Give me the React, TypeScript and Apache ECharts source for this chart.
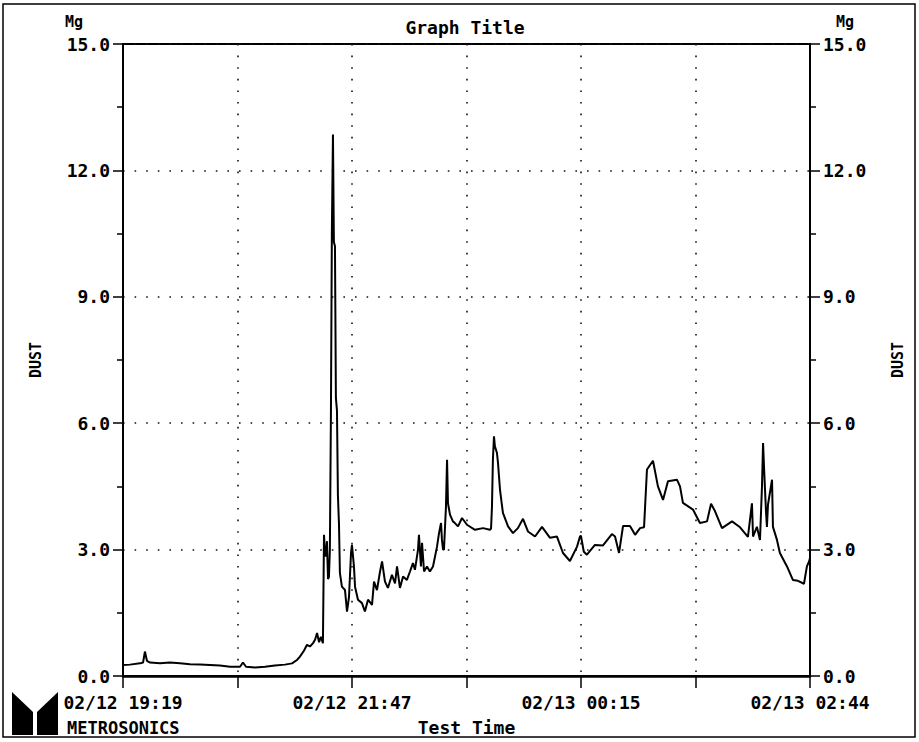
import React, { useEffect, useRef } from "react";
import * as echarts from "echarts";

// Elapsed minutes since 02/12 19:19, dust concentration (mg)
const dustReadings: [number, number][] = [
  [0,0.26],[4.5,0.27],[11,0.3],[13,0.32],[14.2,0.58],[15.5,0.36],[17.5,0.32],[24,0.3],[30.4,0.32],[36.9,0.3],
  [43.4,0.28],[49.9,0.27],[56.4,0.26],[62.8,0.25],[69.3,0.22],[75.8,0.22],[77.7,0.32],[79.7,0.22],[85.5,0.2],[92,0.22],
  [98.4,0.25],[104.9,0.27],[109.5,0.3],[112.7,0.38],[114.6,0.46],[117.2,0.6],[119.2,0.74],[121.1,0.7],[123.1,0.78],[124.4,0.86],
  [125.7,1.02],[127,0.8],[128.2,0.93],[129.5,0.78],[130.2,3.35],[130.8,2.9],[131.4,2.84],[132.1,3.2],[132.8,2.3],[133.4,2.35],
  [134,3.0],[134.7,6.3],[135.3,10.6],[136,12.85],[136.6,10.3],[137.3,10.2],[137.9,6.6],[138.6,6.3],[139.2,4.3],[139.9,3.6],
  [140.5,2.45],[141.8,2.12],[143.8,2.04],[145.1,1.53],[146.4,1.88],[147.7,2.92],[148.3,3.11],[149.6,2.6],[150.3,2.12],[152.2,1.81],
  [154.8,1.73],[156.7,1.53],[158.7,1.81],[161.3,1.69],[162.6,2.24],[164.5,2.04],[166.5,2.48],[167.8,2.72],[169.7,2.24],[171.6,2.09],
  [174.2,2.4],[176.2,2.2],[177.5,2.6],[179.4,2.09],[181.4,2.36],[183.9,2.28],[185.9,2.48],[187.8,2.68],[189.1,2.52],[191.1,3.0],
  [191.7,3.35],[193,2.6],[193.7,3.16],[195,2.48],[196.9,2.6],[198.8,2.48],[200.8,2.6],[203.4,3.07],[204.7,3.39],[206,3.63],
  [206.6,3.23],[207.3,3.0],[207.9,3.0],[209.2,4.02],[209.9,5.13],[210.5,4.1],[211.8,3.83],[213.7,3.67],[215,3.63],[217,3.55],
  [219.6,3.75],[222.8,3.59],[228,3.47],[233.2,3.51],[237.7,3.47],[238.4,3.5],[239,4.02],[239.6,5.13],[240.3,5.69],[240.9,5.45],
  [242.2,5.3],[242.9,5.06],[244.2,4.42],[246.1,3.87],[249.4,3.55],[252.6,3.39],[255.8,3.51],[259.1,3.73],[262.3,3.43],[266.9,3.31],
  [271.4,3.54],[276.6,3.28],[281.1,3.31],[285,2.92],[289.5,2.73],[294.1,3.07],[296,3.31],[296.6,3.33],[298.5,2.95],[300.5,2.88],
  [305.7,3.11],[310.9,3.1],[316.7,3.37],[318.7,3.31],[321.3,2.92],[323.9,3.56],[328.4,3.56],[331.7,3.35],[334.9,3.51],[337.5,3.53],
  [339.4,4.9],[343.3,5.11],[346.5,4.5],[349.8,4.18],[353,4.62],[358.8,4.66],[360.8,4.5],[362.7,4.11],[369.2,3.95],[373.7,3.63],
  [378.3,3.67],[380.9,4.09],[383.5,3.91],[388,3.51],[394.5,3.67],[399.7,3.53],[404.8,3.3],[407.4,4.1],[408.1,3.31],[410.6,3.54],
  [412.6,3.23],[413.9,4.5],[414.6,5.53],[415.2,4.97],[416.5,3.9],[417.1,3.54],[417.8,4.07],[420.4,4.66],[421,3.54],[423.6,3.23],
  [425.5,2.92],[430.1,2.6],[433.9,2.28],[437.2,2.26],[441.1,2.19],[443,2.6],[444.4,2.72],[445,2.8],
];

const timeTickLabels = ["02/12 19:19", "", "02/12 21:47", "", "02/13 00:15", "", "02/13 02:44"];
const totalSeconds = 26700; // 7h25m
const tickSeconds = 4450;
const dustMin = 0;
const dustMax = 15;
const dustStep = 3;

const chartTitle = "Graph Title";
const xName = "Test Time";
const yName = "DUST";
const unitName = "Mg";
const brandName = "METROSONICS";

const FONT = "DejaVu Sans Mono";

export default function App() {
  const ref = useRef<HTMLDivElement>(null);
  useEffect(() => {
    if (!ref.current) return;
    const chart = echarts.init(ref.current, null, { renderer: "svg" });
    const textBase = { fontFamily: FONT, fontWeight: "bold" as const, fontSize: 18, color: "#000" };
    const yAxisCommon = {
      type: "value" as const,
      min: dustMin,
      max: dustMax,
      interval: dustStep,
      axisLine: { show: true, lineStyle: { color: "#000", width: 2 } },
      axisTick: { show: true, length: 10, lineStyle: { color: "#000", width: 1.5 } },
      minorTick: { show: true, splitNumber: 2, length: 6, lineStyle: { color: "#000", width: 1.5 } },
      axisLabel: { ...textBase, margin: 13, formatter: (v: number) => v.toFixed(1) },
      name: yName,
      nameLocation: "middle" as const,
      nameRotate: 90,
      nameGap: 80,
      nameTextStyle: { fontFamily: FONT, fontWeight: "bold" as const, fontSize: 15, color: "#000" },
    };
    chart.setOption({
      animation: false,
      backgroundColor: "#fff",
      grid: {
        left: 123,
        right: 109,
        top: 44,
        bottom: 66,
        show: true,
        borderColor: "#000",
        borderWidth: 2,
        backgroundColor: "transparent",
      },
      xAxis: {
        type: "value",
        min: 0,
        max: totalSeconds,
        interval: tickSeconds,
        axisLine: { show: true, lineStyle: { color: "#000", width: 2.5 } },
        axisTick: { show: true, length: 12, lineStyle: { color: "#000", width: 1.5 } },
        axisLabel: {
          ...textBase,
          margin: 17,
          interval: 0,
          showMinLabel: true,
          showMaxLabel: true,
          hideOverlap: false,
          formatter: (v: number) => timeTickLabels[Math.round(v / tickSeconds)] ?? "",
        },
        splitLine: { show: true, lineStyle: { color: "#111", width: 1.6, type: [1.6, 10] } },
        name: xName,
        nameLocation: "middle",
        nameGap: 42,
        nameTextStyle: { ...textBase },
      },
      yAxis: [
        {
          ...yAxisCommon,
          position: "left",
          splitLine: { show: true, lineStyle: { color: "#111", width: 1.6, type: [1.6, 10] } },
        },
        {
          ...yAxisCommon,
          position: "right",
          splitLine: { show: false },
        },
      ],
      series: [
        {
          type: "line",
          data: dustReadings.map(([m, v]) => [m * 60, v]),
          showSymbol: false,
          symbol: "none",
          lineStyle: { color: "#000", width: 2 },
          yAxisIndex: 0,
        },
      ],
      graphic: [
        {
          type: "rect",
          shape: { x: 3, y: 4, width: 912, height: 733 },
          style: { fill: "none", stroke: "#000", lineWidth: 1.5 },
          silent: true,
        },
        {
          type: "text",
          x: 465,
          y: 27,
          style: { text: chartTitle, font: `bold 18px "${FONT}"`, fill: "#000", align: "center", verticalAlign: "middle" },
        },
        {
          type: "text",
          x: 74,
          y: 22,
          style: { text: unitName, font: `bold 15px "${FONT}"`, fill: "#000", align: "center", verticalAlign: "middle" },
        },
        {
          type: "text",
          x: 845,
          y: 22,
          style: { text: unitName, font: `bold 15px "${FONT}"`, fill: "#000", align: "center", verticalAlign: "middle" },
        },
        {
          type: "text",
          x: 67,
          y: 728,
          style: { text: brandName, font: `bold 17px "${FONT}"`, fill: "#000", align: "left", verticalAlign: "middle" },
        },
        {
          type: "polygon",
          shape: { points: [[12, 692], [33, 712], [33, 735], [12, 735]] },
          style: { fill: "#000" },
        },
        {
          type: "polygon",
          shape: { points: [[58, 692], [37, 712], [37, 735], [58, 735]] },
          style: { fill: "#000" },
        },
      ],
    });
    return () => chart.dispose();
  }, []);
  return <div ref={ref} style={{ position: "fixed", left: 0, top: 0, width: 919, height: 742 }} />;
}
